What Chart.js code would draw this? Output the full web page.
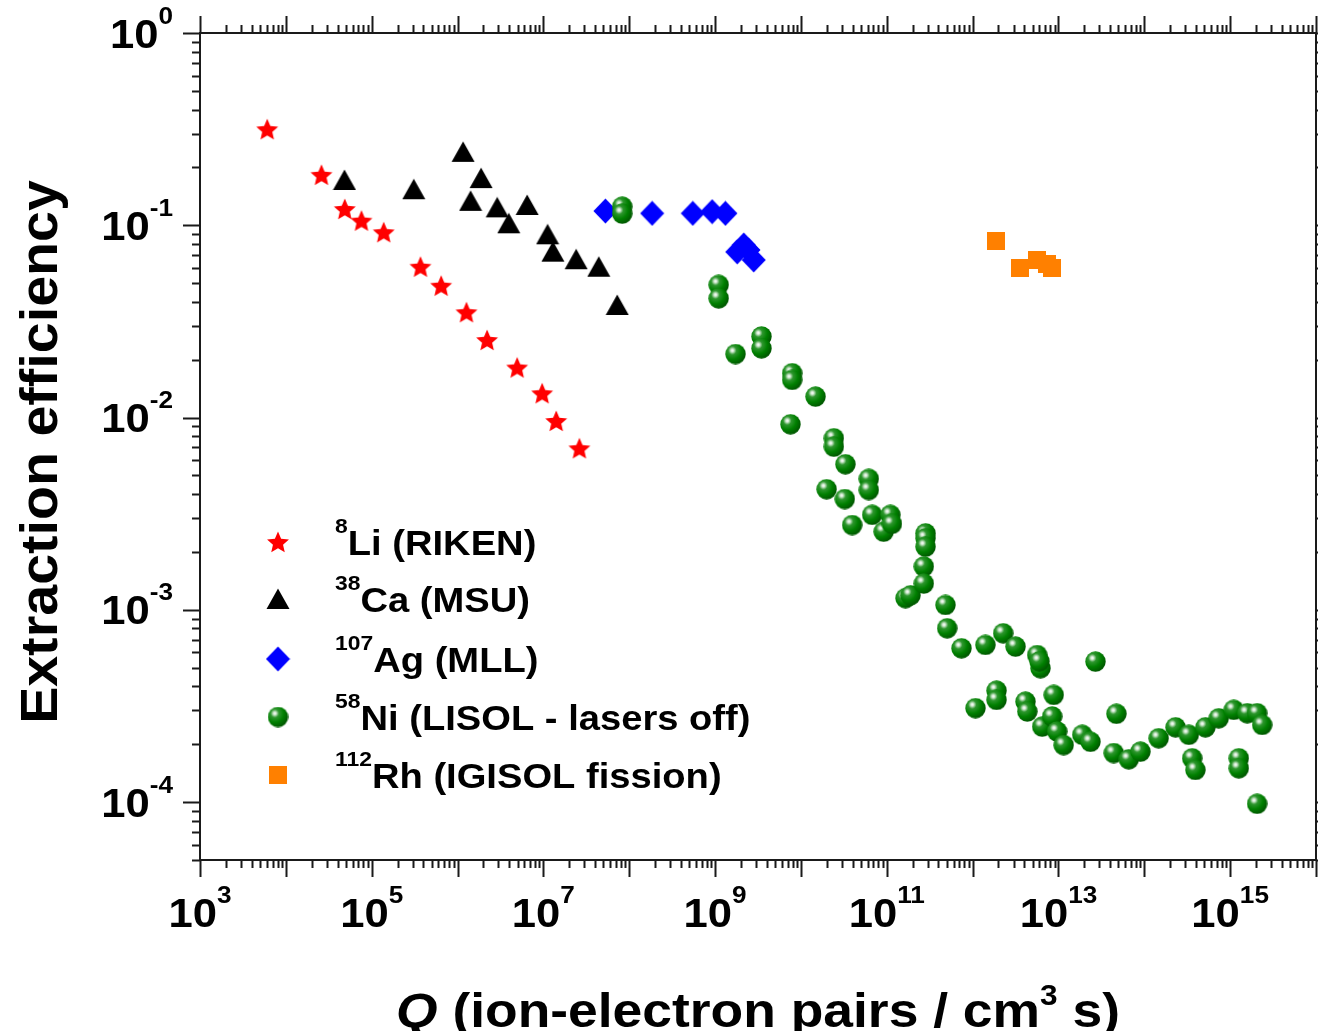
<!DOCTYPE html>
<html>
<head>
<meta charset="utf-8">
<script src="https://cdn.jsdelivr.net/npm/chart.js@4/dist/chart.umd.min.js"></script>
<style>
  html, body { margin: 0; background: #fff; }
  canvas { display: block; }
</style>
</head>
<body>
<canvas id="chart" width="1318" height="1031"></canvas>
<script>
// 8Li (RIKEN)
const liQ   = [6.07e3, 2.6e4, 4.86e4, 7.6e4, 1.38e5, 3.7e5, 6.44e5, 1.27e6, 2.21e6, 4.95e6, 9.68e6, 1.41e7, 2.63e7];
const liEff = [0.316, 0.183, 0.1215, 0.1057, 0.092, 0.0609, 0.0485, 0.0353, 0.0253, 0.0182, 0.01337, 0.0096, 0.00692];

// 38Ca (MSU)
const caQ   = [4.82e4, 3.09e5, 1.16e6, 1.42e6, 1.88e6, 2.9e6, 3.95e6, 6.47e6, 1.12e7, 1.29e7, 2.41e7, 4.42e7, 7.25e7];
const caEff = [0.172, 0.154, 0.241, 0.134, 0.176, 0.124, 0.1024, 0.1275, 0.0898, 0.0729, 0.0666, 0.0609, 0.0385];

// 107Ag (MLL)
const agQ   = [5.28e7, 1.85e8, 5.5e8, 9.25e8, 1.32e9, 1.81e9, 2.16e9, 2.45e9, 2.82e9];
const agEff = [0.1186, 0.1154, 0.1154, 0.1177, 0.1154, 0.0727, 0.079, 0.0744, 0.066];

// 58Ni (LISOL - lasers off)
const niQ = [8.28e7, 8.28e7, 1.1e9, 1.1e9, 1.73e9, 3.47e9, 3.47e9, 7.55e9, 7.9e9, 7.9e9,
             1.48e10, 1.99e10, 2.42e10, 2.42e10, 3.24e10, 3.3e10, 3.95e10, 6.17e10, 6.17e10, 6.76e10,
             9.2e10, 1.1e11, 1.15e11, 1.65e11, 1.89e11, 2.83e11, 2.83e11, 2.83e11, 2.7e11, 2.7e11,
             4.83e11, 5.05e11, 7.41e11, 1.08e12, 1.41e12, 1.9e12, 1.9e12, 2.27e12, 3.16e12, 4.13e12,
             4.33e12, 5.65e12, 6.17e12, 6.0e12, 6.46e12, 8.44e12, 8.81e12, 9.66e12, 1.15e13, 1.89e13,
             2.36e13, 2.7e13, 4.4e13, 4.73e13, 6.59e13, 9.0e13, 1.47e14, 2.31e14, 3.3e14, 3.61e14,
             3.94e14, 5.15e14, 7.36e14, 1.1e15, 1.26e15, 1.26e15, 1.58e15, 2.06e15, 2.36e15, 2.06e15];
const niEff = [0.125, 0.115, 0.049, 0.0417, 0.0214, 0.0264, 0.0229, 0.00923, 0.017, 0.0157,
               0.01285, 0.00424, 0.0078, 0.00706, 0.00377, 0.00572, 0.00276, 0.0048, 0.0042, 0.00312,
               0.00255, 0.00312, 0.0028, 0.00115, 0.00119, 0.0025, 0.00236, 0.00213, 0.00168, 0.00137,
               0.00106, 0.000802, 0.000631, 0.000308, 0.000657, 0.00038, 0.00034, 0.000755, 0.000644, 0.000333,
               0.000296, 0.000582, 0.000497, 0.00054, 0.000247, 0.000279, 0.000361, 0.000233, 0.000198, 0.000224,
               0.000206, 0.000538, 0.00018, 0.000288, 0.000167, 0.000183, 0.000215, 0.000245, 0.000224, 0.000169,
               0.000147, 0.000245, 0.000273, 0.000302, 0.000169, 0.00015, 0.00029, 0.00029, 0.000252, 0.000098];

// 112Rh (IGISOL fission)
const rhQ   = [1.85e12, 3.54e12, 5.65e12, 7.38e12, 8.44e12];
const rhEff = [0.0832, 0.0598, 0.066, 0.0629, 0.0598];

// legend labels: [mass number, rest]
const legendMass = ['8', '38', '107', '58', '112'];
const legendText = ['Li (RIKEN)', 'Ca (MSU)', 'Ag (MLL)', 'Ni (LISOL - lasers off)', 'Rh (IGISOL fission)'];

const xMin = 1e3, xMax = 1e16;
const yMin = 5e-5, yMax = 1;
const xLabelExp = [3, 5, 7, 9, 11, 13, 15];
const yLabelExp = [0, -1, -2, -3, -4];

const FONT = '"Liberation Sans", Arial, sans-serif';
const SX = 1.09; // reference text is a bit wider than Arial

// ---- marker pictures ----
function makeCanvas(w, h, draw) {
    const c = document.createElement('canvas');
    c.width = w; c.height = h;
    draw(c.getContext('2d'), w, h);
    return c;
}

const starImg = makeCanvas(24, 24, (g, w, h) => {
    const R = 11.5, r = 5.3;
    g.beginPath();
    for (let i = 0; i < 10; i++) {
        const a = -Math.PI / 2 + i * Math.PI / 5;
        const rr = i % 2 ? r : R;
        g.lineTo(w / 2 + rr * Math.cos(a), h / 2 + 1 + rr * Math.sin(a));
    }
    g.closePath();
    g.fillStyle = '#ff0000';
    g.fill();
});

const triImg = makeCanvas(24, 22, (g) => {
    g.beginPath();
    g.moveTo(12, 0.5); g.lineTo(23.5, 21); g.lineTo(0.5, 21);
    g.closePath();
    g.fillStyle = '#000000';
    g.fill();
});

const diaImg = makeCanvas(25, 26, (g) => {
    g.beginPath();
    g.moveTo(12.5, 0.5); g.lineTo(24.5, 13); g.lineTo(12.5, 25.5); g.lineTo(0.5, 13);
    g.closePath();
    g.fillStyle = '#0000ff';
    g.fill();
});

const sphereImg = makeCanvas(21, 21, (g, w, h) => {
    const r = 10.2, cx = w / 2, cy = h / 2;
    const hx = cx - 3.2, hy = cy - 3.6;
    const grad = g.createRadialGradient(hx, hy, 0, hx, hy, r * 1.35);
    grad.addColorStop(0, '#ffffff');
    grad.addColorStop(0.1, '#d8ecd8');
    grad.addColorStop(0.3, '#2e962e');
    grad.addColorStop(0.65, '#008000');
    grad.addColorStop(1, '#005a00');
    g.beginPath();
    g.arc(cx, cy, r, 0, Math.PI * 2);
    g.fillStyle = grad;
    g.fill();
});

const sqImg = makeCanvas(18, 18, (g) => {
    g.fillStyle = '#ff8000';
    g.fillRect(0, 0, 18, 18);
});

const legendImgs = [starImg, triImg, diaImg, sphereImg, sqImg];

function pts(xs, ys) {
    return xs.map((x, i) => ({ x: x, y: ys[i] }));
}

// ---- text helpers ----
function runWidth(ctx, runs, base) {
    let w = 0;
    runs.forEach(r => {
        ctx.font = (r.italic ? 'italic ' : '') + 'bold ' + (r.size || base) + 'px ' + FONT;
        w += ctx.measureText(r.t).width * SX;
    });
    return w;
}

function drawRuns(ctx, runs, x, y, base, align) {
    const total = runWidth(ctx, runs, base);
    let cx = align === 'center' ? x - total / 2 : align === 'right' ? x - total : x;
    runs.forEach(r => {
        ctx.font = (r.italic ? 'italic ' : '') + 'bold ' + (r.size || base) + 'px ' + FONT;
        const w = ctx.measureText(r.t).width * SX;
        ctx.save();
        ctx.translate(cx, y + (r.dy || 0));
        ctx.scale(SX, 1);
        ctx.textAlign = 'left';
        ctx.textBaseline = 'alphabetic';
        ctx.fillText(r.t, 0, 0);
        ctx.restore();
        cx += w;
    });
}

function powRuns(e) {
    return [{ t: '10' }, { t: String(e), size: 24, dy: -24 }];
}

// ---- axes, ticks, titles, legend ----
const framePlugin = {
    id: 'frame',
    afterDraw(chart) {
        const ctx = chart.ctx;
        const xs = chart.scales.x, ys = chart.scales.y;
        const a = chart.chartArea;
        ctx.save();
        ctx.strokeStyle = '#1a1a1a';
        ctx.fillStyle = '#000';
        ctx.lineWidth = 2;
        ctx.strokeRect(a.left, a.top, a.right - a.left, a.bottom - a.top);

        const MAJ = 17, MIN = 8;
        ctx.beginPath();
        for (let d = 3; d <= 16; d++) {
            for (let k = 1; k <= 9; k++) {
                const v = k * Math.pow(10, d);
                if (v < xMin || v > xMax * 1.0001) continue;
                const px = Math.round(xs.getPixelForValue(v)) + 0.5;
                const len = k === 1 ? MAJ : MIN;
                ctx.moveTo(px, a.bottom); ctx.lineTo(px, a.bottom + len);
                ctx.moveTo(px, a.top); ctx.lineTo(px, a.top - len);
            }
        }
        for (let d = -5; d <= 0; d++) {
            for (let k = 1; k <= 9; k++) {
                const v = k * Math.pow(10, d);
                if (v < yMin * 0.9999 || v > yMax * 1.0001) continue;
                const py = Math.round(ys.getPixelForValue(v)) + 0.5;
                const len = k === 1 ? MAJ : MIN;
                ctx.moveTo(a.left, py); ctx.lineTo(a.left - len, py);
                ctx.moveTo(a.right, py); ctx.lineTo(a.right + len, py);
            }
        }
        ctx.stroke();

        // tick labels
        xLabelExp.forEach(e => {
            const px = xs.getPixelForValue(Math.pow(10, e));
            drawRuns(ctx, powRuns(e), px, a.bottom + 67, 40, 'center');
        });
        yLabelExp.forEach(e => {
            const py = ys.getPixelForValue(Math.pow(10, e));
            drawRuns(ctx, powRuns(e), 173, py + 14.5, 40, 'right');
        });

        // axis titles
        drawRuns(ctx, [
            { t: 'Q', italic: true },
            { t: ' (ion-electron pairs / cm' },
            { t: '3', size: 29, dy: -22 },
            { t: ' s)' }
        ], (a.left + a.right) / 2, 1027, 49, 'center');

        ctx.save();
        ctx.translate(57, 452);
        ctx.rotate(-Math.PI / 2);
        drawRuns(ctx, [{ t: 'Extraction efficiency' }], 0, 0, 51, 'center');
        ctx.restore();

        // legend
        const rows = [542, 599, 659, 717, 775];
        rows.forEach((ry, i) => {
            const img = legendImgs[i];
            ctx.drawImage(img, 278 - img.width / 2, ry - img.height / 2);
            drawRuns(ctx, [
                { t: legendMass[i], size: 21, dy: -22 },
                { t: legendText[i] }
            ], 335, ry + 13, 35, 'left');
        });
        ctx.restore();
    }
};

new Chart(document.getElementById('chart').getContext('2d'), {
    type: 'scatter',
    data: {
        datasets: [
            { label: '8Li (RIKEN)', data: pts(liQ, liEff), pointStyle: starImg, order: 2 },
            { label: '38Ca (MSU)', data: pts(caQ, caEff), pointStyle: triImg, order: 3 },
            { label: '107Ag (MLL)', data: pts(agQ, agEff), pointStyle: diaImg, order: 4 },
            { label: '58Ni (LISOL - lasers off)', data: pts(niQ, niEff), pointStyle: sphereImg, order: 1 },
            { label: '112Rh (IGISOL fission)', data: pts(rhQ, rhEff), pointStyle: sqImg, order: 0 }
        ]
    },
    options: {
        responsive: false,
        animation: false,
        devicePixelRatio: 1,
        layout: { autoPadding: false, padding: { left: 200, right: 2, top: 33, bottom: 171 } },
        elements: { point: { radius: 10, borderWidth: 0 } },
        scales: {
            x: { type: 'logarithmic', display: false, min: xMin, max: xMax },
            y: { type: 'logarithmic', display: false, min: yMin, max: yMax }
        },
        plugins: {
            legend: { display: false },
            tooltip: { enabled: false }
        }
    },
    plugins: [framePlugin]
});
</script>
</body>
</html>
